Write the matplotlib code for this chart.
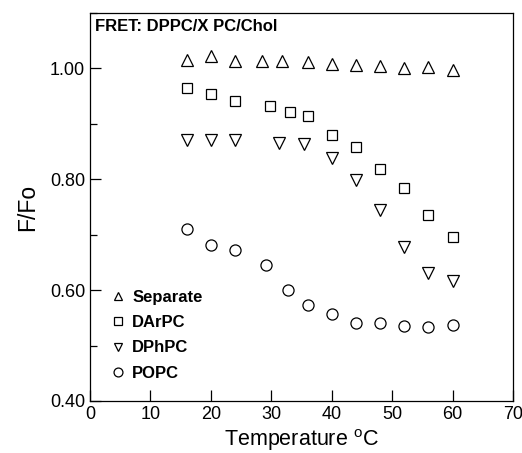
import numpy as np
import matplotlib.pyplot as plt
from matplotlib.ticker import MultipleLocator, FormatStrFormatter

plt.rcParams['font.family'] = ['Liberation Sans', 'DejaVu Sans']
plt.rcParams['mathtext.fontset'] = 'custom'
plt.rcParams['mathtext.rm'] = 'Liberation Sans'

# Data
sep_t = [16, 20, 24, 28.4, 31.7, 36, 40, 44, 48, 52, 56, 60]
sep_y = [1.015, 1.022, 1.013, 1.013, 1.014, 1.012, 1.008, 1.006, 1.004, 1.000, 1.002, 0.997]

darpc_t = [16, 20, 24, 29.8, 33.1, 36, 40, 44, 48, 52, 56, 60]
darpc_y = [0.965, 0.954, 0.941, 0.933, 0.921, 0.914, 0.880, 0.858, 0.819, 0.784, 0.735, 0.696]

dphpc_t = [16, 20, 24, 31.2, 35.4, 40, 44, 48, 52, 56, 60]
dphpc_y = [0.870, 0.870, 0.870, 0.865, 0.863, 0.839, 0.798, 0.745, 0.678, 0.631, 0.617]

popc_t = [16, 20, 24, 29.2, 32.7, 36, 40, 44, 48, 52, 56, 60]
popc_y = [0.710, 0.681, 0.672, 0.646, 0.600, 0.573, 0.557, 0.540, 0.540, 0.536, 0.534, 0.537]

fig = plt.figure(figsize=(5.22, 4.53), dpi=100)
ax = fig.add_axes([0.1724, 0.1148, 0.8104, 0.8565])

style = dict(linestyle='none', markerfacecolor='white', markeredgecolor='black',
             markeredgewidth=0.9)
ax.plot(sep_t, sep_y, marker='^', markersize=8, label='Separate', **style)
ax.plot(darpc_t, darpc_y, marker='s', markersize=7.5, label='DArPC', **style)
ax.plot(dphpc_t, dphpc_y, marker='v', markersize=8, label='DPhPC', **style)
ax.plot(popc_t, popc_y, marker='o', markersize=8, label='POPC', **style)

ax.set_xlim(0, 70)
ax.set_ylim(0.40, 1.10)
ax.xaxis.set_major_locator(MultipleLocator(10))
ax.yaxis.set_major_locator(MultipleLocator(0.2))
ax.yaxis.set_minor_locator(MultipleLocator(0.1))
ax.yaxis.set_major_formatter(FormatStrFormatter('%.2f'))
ax.tick_params(which='major', direction='in', length=8, width=0.9, labelsize=13)
ax.tick_params(which='minor', direction='in', length=5, width=0.9)
for s in ax.spines.values():
    s.set_linewidth(0.9)

ax.set_xlabel('Temperature $^{\\mathrm{o}}$C', fontsize=15.5, labelpad=3)
ax.set_ylabel('F/Fo', fontsize=16.5, labelpad=8)

ax.text(0.012, 0.985, 'FRET: DPPC/X PC/Chol', transform=ax.transAxes,
        fontsize=12, fontweight='bold', va='top', ha='left')

ax.legend(loc='lower left', bbox_to_anchor=(0.015, 0.022), frameon=False,
          prop={'weight': 'bold', 'size': 12}, handletextpad=0.25,
          labelspacing=0.62, handlelength=1.2, borderaxespad=0.3,
          markerscale=0.8)

fig.savefig('out.png', dpi=100)
